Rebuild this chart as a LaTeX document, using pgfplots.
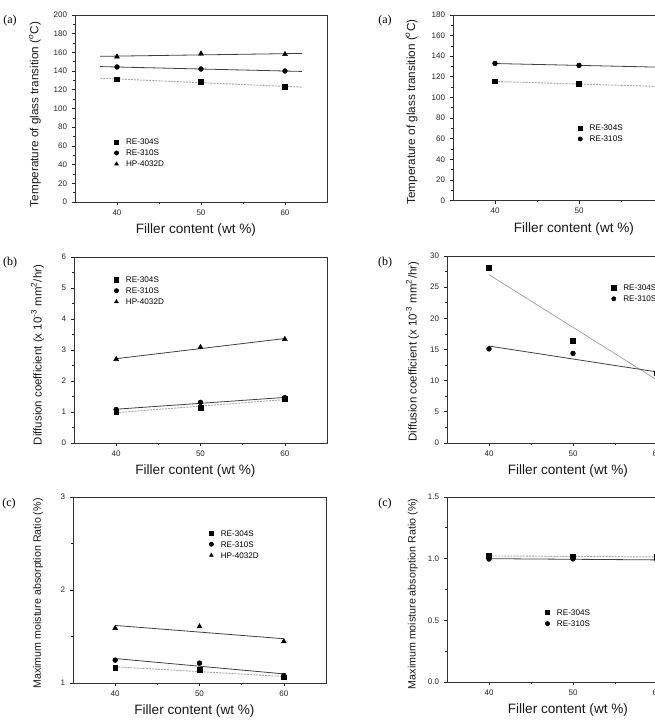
\documentclass[border=0pt]{standalone}
\usepackage{pgfplots}
\pgfplotsset{compat=1.18}
\usepackage{fontspec}
\setmainfont{Liberation Sans}
\newfontfamily\panelfont{Liberation Serif}

\newcommand\fs[1]{\fontsize{#1}{#1}\selectfont}

\pgfplotsset{
  panel/.style={
    scale only axis,
    xmin=35, xmax=65,
    xtick={40,50,60},
    minor x tick num=1,
    minor y tick num=1,
    tick align=outside,
    xtick pos=bottom, ytick pos=left,
    major tick length=2.4pt,
    minor tick length=1.5pt,
    tick style={black!85, line width=0.5pt},
    axis line style={black!80, line width=0.6pt},
    tick label style={font=\fs{6.0}, text=black!85},
    /pgf/number format/assume math mode=true,
    xlabel={Filler content (wt \%)},
    xlabel style={font=\fs{10.2}, text=black!90, at={(axis description cs:0.48,-0.152)}, anchor=center},
    ylabel style={anchor=center, text=black!90},
    legend style={draw=none, fill=none, inner sep=0pt, outer sep=0pt, anchor=north west,
        font=\fs{6.1}, row sep=3.85pt, column sep=5.5pt,
        nodes={inner sep=0pt, text height=4.4pt, text depth=0pt}},
    legend cell align=left,
    legend image code/.code={%
        \draw[mark repeat=2, mark phase=2, ##1, mark size=1.6pt]
            plot coordinates {(-2pt,0pt) (0pt,0pt) (2pt,0pt)};},
  },
  sq/.style={only marks, mark=square*, mark size=1.75pt, black},
  ci/.style={only marks, mark=*, mark size=1.8pt, black},
  tr/.style={only marks, mark=triangle*, mark size=2.1pt, black},
  fitA/.style={forget plot, gray!70, line width=0.7pt, dash pattern=on 1.5pt off 0.8pt},
  fitB/.style={forget plot, black!75, line width=0.6pt},
}

\begin{document}
\begin{tikzpicture}
\useasboundingbox (0,0) rectangle (491.25pt,540.75pt);

% ---------- left column ----------
% (a) glass transition temperature
\begin{axis}[panel, at={(56.25pt,389.25pt)}, anchor=south west, width=189pt, height=140.25pt,
  ymin=0, ymax=200, ytick={0,20,...,200},
  ylabel={Temperature of glass transition (\textsuperscript{\itshape o}C)},
  ylabel style={at={(axis description cs:-0.159,0.468)}, font=\fs{8.8}},
  legend style={at={(axis description cs:0.167,0.321)}, xshift=-2pt, yshift=2.2pt}]
\addplot[fitA] coordinates {(38,132.34) (62,122.86)};
\addplot[fitB] coordinates {(38,144.81) (62,139.65)};
\addplot[fitB] coordinates {(38,155.77) (62,158.89)};
\addplot[sq] coordinates {(40,131.2) (50,128.3) (60,123.3)};
\addplot[ci] coordinates {(40,144.4) (50,142.2) (60,140.1)};
\addplot[tr] coordinates {(40,155.4) (50,158.6) (60,158.0)};
\legend{RE-304S, RE-310S, HP-4032D}
\end{axis}

% (b) diffusion coefficient
\begin{axis}[panel, at={(55.5pt,208.5pt)}, anchor=south west, width=189.75pt, height=139.5pt,
  ymin=0, ymax=6, ytick={0,1,...,6},
  ylabel={Diffusion coefficient (x 10\textsuperscript{-3} mm\textsuperscript{2}/hr)},
  ylabel style={at={(axis description cs:-0.144,0.473)}, font=\fs{8.6}},
  legend style={at={(axis description cs:0.170,0.878)}, xshift=-2pt, yshift=2.2pt}]
\addplot[fitA] coordinates {(40,0.98) (60,1.40)};
\addplot[fitB] coordinates {(40,1.09) (60,1.47)};
\addplot[fitB] coordinates {(40,2.72) (60,3.37)};
\addplot[sq] coordinates {(40,1.01) (50,1.13) (60,1.43)};
\addplot[ci] coordinates {(40,1.08) (50,1.31) (60,1.46)};
\addplot[tr] coordinates {(40,2.70) (50,3.09) (60,3.35)};
\legend{RE-304S, RE-310S, HP-4032D}
\end{axis}

% (c) maximum moisture absorption
\begin{axis}[panel, at={(54.75pt,28.5pt)}, anchor=south west, width=189.75pt, height=139.5pt,
  ymin=1, ymax=3, ytick={1,2,3},
  ylabel={Maximum moisture absorption Ratio (\%)},
  ylabel style={at={(axis description cs:-0.138,0.481)}, font=\fs{8.0}},
  legend style={at={(axis description cs:0.549,0.805)}, xshift=-2pt, yshift=2.2pt}]
\addplot[fitA] coordinates {(40,1.174) (60,1.070)};
\addplot[fitB] coordinates {(40,1.263) (60,1.098)};
\addplot[fitB] coordinates {(40,1.619) (60,1.476)};
\addplot[sq] coordinates {(40,1.164) (50,1.143) (60,1.060)};
\addplot[ci] coordinates {(40,1.246) (50,1.214) (60,1.081)};
\addplot[tr] coordinates {(40,1.589) (50,1.607) (60,1.446)};
\legend{RE-304S, RE-310S, HP-4032D}
\end{axis}

% ---------- right column ----------
\begin{axis}[panel, at={(339.75pt,390.375pt)}, anchor=south west, width=189pt, height=139.125pt,
  ymin=0, ymax=180, ytick={0,20,...,180},
  ylabel={Temperature of glass transition (\textsuperscript{\itshape o}C)},
  ylabel style={at={(axis description cs:-0.164,0.477)}, font=\fs{8.8}},
  legend style={at={(axis description cs:0.507,0.391)}, xshift=-2pt, yshift=2.2pt}]
\addplot[fitA] coordinates {(40,115.5) (60,110.5)};
\addplot[fitB] coordinates {(40,132.9) (60,129.3)};
\addplot[sq] coordinates {(40,115.6) (50,113.0) (60,110.5)};
\addplot[ci] coordinates {(40,133.0) (50,131.1) (60,129.3)};
\legend{RE-304S, RE-310S}
\end{axis}

\begin{axis}[panel, at={(335.25pt,208.5pt)}, anchor=south west, width=189pt, height=140.25pt,
  ymin=0, ymax=30, ytick={0,5,...,30},
  ylabel={Diffusion coefficient (x 10\textsuperscript{-3} mm\textsuperscript{2}/hr)},
  ylabel style={at={(axis description cs:-0.137,0.488)}, font=\fs{8.6}},
  legend style={at={(axis description cs:0.664,0.830)}, xshift=-2pt, yshift=2.2pt}]
\addplot[forget plot, gray!80, line width=0.5pt] coordinates {(40,27.0) (60,10.1)};
\addplot[fitB] coordinates {(40,15.55) (60,11.4)};
\addplot[sq] coordinates {(40,28.1) (50,16.35) (60,11.2)};
\addplot[ci] coordinates {(40,15.1) (50,14.37) (60,11.4)};
\legend{RE-304S, RE-310S}
\end{axis}

\begin{axis}[panel, at={(335.25pt,29.25pt)}, anchor=south west, width=189pt, height=138.75pt,
  ymin=0, ymax=1.5, ytick={0,0.5,1,1.5},
  yticklabel style={/pgf/number format/.cd, fixed, fixed zerofill, precision=1},
  ylabel={Maximum moisture absorption Ratio (\%)},
  ylabel style={at={(axis description cs:-0.135,0.476)}, font=\fs{8.0}},
  legend style={at={(axis description cs:0.401,0.375)}, xshift=-2pt, yshift=2.2pt}]
\addplot[fitA] coordinates {(40,1.022) (60,1.014)};
\addplot[fitB] coordinates {(40,1.000) (60,0.990)};
\addplot[sq] coordinates {(40,1.022) (50,1.020) (60,1.015)};
\addplot[ci] coordinates {(40,0.997) (50,0.998) (60,0.990)};
\legend{RE-304S, RE-310S}
\end{axis}

% panel letters
\node[font=\panelfont\fs{9}] at (7.5pt,525pt) {(a)};
\node[font=\panelfont\fs{9}] at (7.5pt,343.5pt) {(b)};
\node[font=\panelfont\fs{9}] at (6.75pt,162.75pt) {(c)};
\node[font=\panelfont\fs{9}] at (288.75pt,525pt) {(a)};
\node[font=\panelfont\fs{9}] at (288.75pt,343.5pt) {(b)};
\node[font=\panelfont\fs{9}] at (288.75pt,162.75pt) {(c)};
\end{tikzpicture}
\end{document}
